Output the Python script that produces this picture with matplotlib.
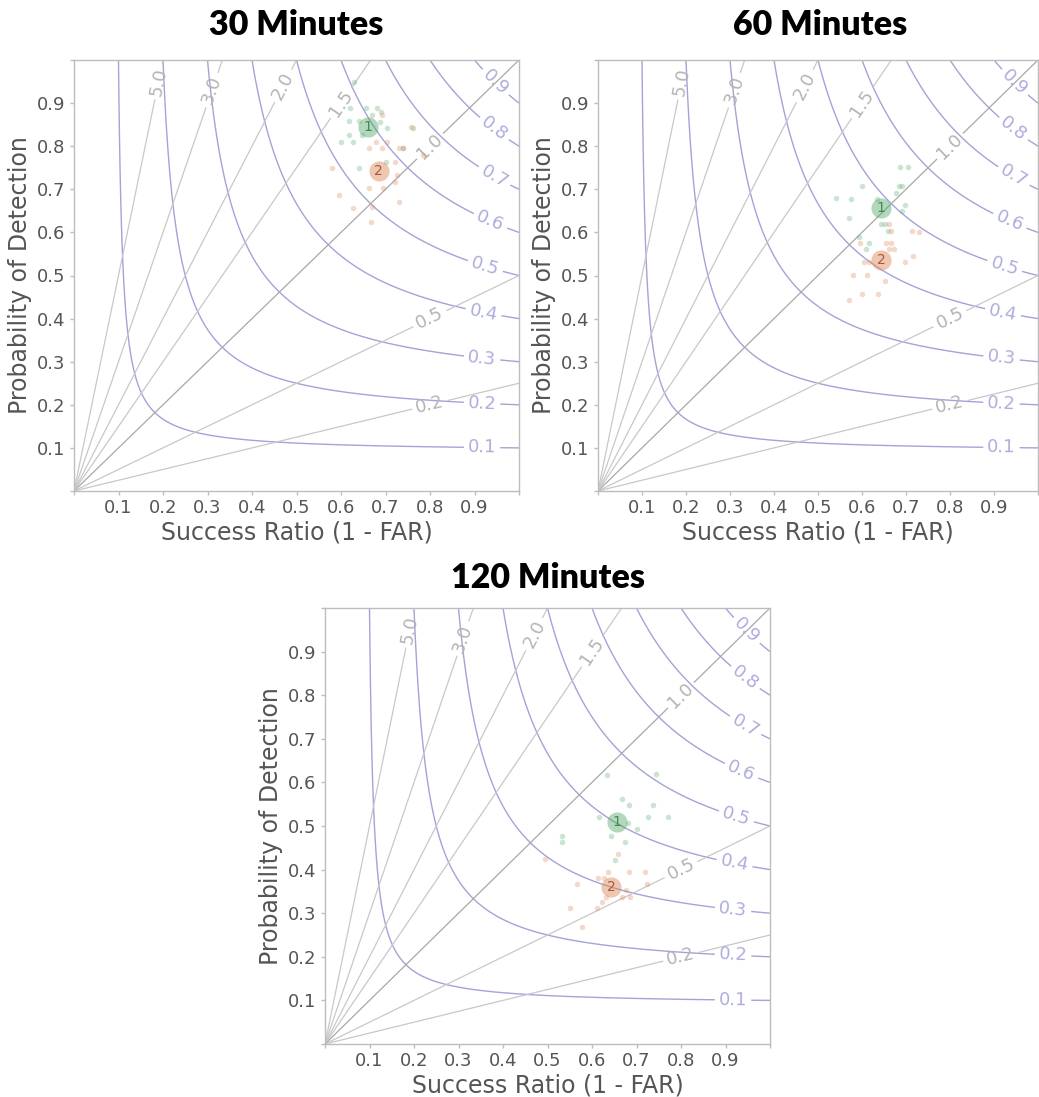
import numpy as np
import matplotlib
matplotlib.use("Agg")
import matplotlib.pyplot as plt

plt.rcParams["font.family"] = ["DejaVu Sans"]

# ---------------- data ----------------
TITLES = ["30 Minutes", "60 Minutes", "120 Minutes"]
CSI_LEVELS = [0.1, 0.2, 0.3, 0.4, 0.5, 0.6, 0.7, 0.8, 0.9]
BIAS_LEVELS = [0.25, 0.5, 1.0, 1.5, 2.0, 3.0, 5.0]
TICKS = [0.0, 0.1, 0.2, 0.3, 0.4, 0.5, 0.6, 0.7, 0.8, 0.9, 1.0]
TICK_LABELS = ["", "0.1", "0.2", "0.3", "0.4", "0.5", "0.6", "0.7", "0.8", "0.9", ""]
XLABEL = "Success Ratio (1 - FAR)"
YLABEL = "Probability of Detection"
CENTROID_LABELS = ["1", "2"]

# 30 minutes
g30_sr = [0.629, 0.620, 0.656, 0.681, 0.618, 0.640, 0.670, 0.688, 0.703, 0.762, 0.618, 0.647,
          0.600, 0.627, 0.739, 0.701, 0.640, 0.690]
g30_pod = [0.949, 0.889, 0.889, 0.889, 0.858, 0.858, 0.872, 0.856, 0.842, 0.842, 0.826, 0.826,
           0.810, 0.810, 0.796, 0.763, 0.749, 0.880]
o30_sr = [0.692, 0.679, 0.703, 0.663, 0.692, 0.730, 0.784, 0.580, 0.721, 0.726, 0.721, 0.663,
          0.694, 0.596, 0.627, 0.670, 0.730, 0.667, 0.757, 0.740]
o30_pod = [0.872, 0.810, 0.810, 0.796, 0.796, 0.796, 0.780, 0.749, 0.763, 0.733, 0.717, 0.703,
           0.703, 0.687, 0.657, 0.659, 0.671, 0.624, 0.845, 0.795]
c30_sr = [0.661, 0.685]
c30_pod = [0.845, 0.742]

# 60 minutes
g60_sr = [0.687, 0.705, 0.599, 0.683, 0.692, 0.678, 0.574, 0.635, 0.698, 0.692, 0.571, 0.644,
          0.653, 0.658, 0.594, 0.615, 0.610, 0.540]
g60_pod = [0.752, 0.752, 0.708, 0.708, 0.708, 0.691, 0.677, 0.677, 0.664, 0.650, 0.633, 0.619,
           0.619, 0.603, 0.589, 0.575, 0.561, 0.680]
o60_sr = [0.662, 0.667, 0.714, 0.596, 0.655, 0.667, 0.662, 0.673, 0.717, 0.605, 0.617, 0.698,
          0.580, 0.612, 0.653, 0.601, 0.637, 0.571, 0.730]
o60_pod = [0.619, 0.603, 0.603, 0.575, 0.575, 0.575, 0.561, 0.561, 0.545, 0.531, 0.531, 0.531,
           0.501, 0.501, 0.487, 0.457, 0.457, 0.443, 0.600]
c60_sr = [0.644, 0.644]
c60_pod = [0.657, 0.536]

# 120 minutes
g120_sr = [0.667, 0.683, 0.737, 0.616, 0.726, 0.771, 0.681, 0.701, 0.533, 0.533, 0.643, 0.674,
           0.652, 0.634, 0.744]
g120_pod = [0.562, 0.548, 0.548, 0.521, 0.521, 0.521, 0.507, 0.493, 0.477, 0.463, 0.477, 0.463,
            0.422, 0.617, 0.619]
o120_sr = [0.658, 0.636, 0.683, 0.719, 0.613, 0.627, 0.566, 0.724, 0.676, 0.631, 0.667, 0.685,
           0.622, 0.551, 0.611, 0.578, 0.494]
o120_pod = [0.436, 0.394, 0.394, 0.394, 0.381, 0.381, 0.367, 0.367, 0.353, 0.337, 0.337, 0.337,
            0.326, 0.312, 0.312, 0.268, 0.425]
c120_sr = [0.656, 0.643]
c120_pod = [0.509, 0.360]

PANELS = [
    (g30_sr, g30_pod, o30_sr, o30_pod, c30_sr, c30_pod),
    (g60_sr, g60_pod, o60_sr, o60_pod, c60_sr, c60_pod),
    (g120_sr, g120_pod, o120_sr, o120_pod, c120_sr, c120_pod),
]

# ---------------- style ----------------
CSI_COLOR = "#a3a3d8"
CSI_LABEL_COLOR = "#aeaedc"
BIAS_COLOR = "#c8c8c8"
BIAS1_COLOR = "#a8a8a8"
TEXT_COLOR = "#555555"
SPINE_COLOR = "#bdbdbd"
GREEN = "#55a868"
ORANGE = "#dd8452"
GREEN_TXT = "#3c8c50"
ORANGE_TXT = "#aa5a3c"

csi_label_pos = [(0.917, 0.102), (0.917, 0.204), (0.917, 0.309), (0.92, 0.413), (0.925, 0.524),
                 (0.937, 0.629), (0.944, 0.729), (0.944, 0.84), (0.948, 0.949)]
bias_label_pos = [(0.8, 0.2), (0.8, 0.4), (0.8, 0.8), (0.6, 0.9), (0.47, 0.94), (0.31, 0.93),
                  (0.19, 0.95)]

W, H = 1039, 1097
fig = plt.figure(figsize=(W / 100, H / 100), dpi=100)
fig.patch.set_facecolor("white")

axes_px = [(74, 60, 519, 491), (598, 60, 1038, 491), (325, 608, 770, 1044)]
title_px = [(296, 25), (820, 25), (548, 578)]

grid = np.linspace(0.001, 1.0, 500)
SR, POD = np.meshgrid(grid, grid)
CSI = 1.0 / (1.0 / SR + 1.0 / POD - 1.0)
BIAS = POD / SR

for i, (gx, gy, ox, oy, cx, cy) in enumerate(PANELS):
    l, t, r, b = axes_px[i]
    ax = fig.add_axes([l / W, 1 - b / H, (r - l) / W, (b - t) / H])
    ax.set_facecolor("white")

    cs = ax.contour(SR, POD, CSI, levels=CSI_LEVELS, colors=CSI_COLOR, linewidths=1.0)
    ax.clabel(cs, fmt="%.1f", manual=csi_label_pos, fontsize=13, colors=CSI_LABEL_COLOR,
              inline=True, inline_spacing=4)
    bcols = [BIAS1_COLOR if lv == 1.0 else BIAS_COLOR for lv in BIAS_LEVELS]
    bs = ax.contour(SR, POD, BIAS, levels=BIAS_LEVELS, colors=bcols, linewidths=0.9)
    ax.clabel(bs, fmt="%.1f", manual=bias_label_pos, fontsize=13, colors="#b4b4b4",
              inline=True, inline_spacing=4)

    ax.scatter(gx, gy, s=16, color=GREEN, alpha=0.3, linewidths=0, zorder=4)
    ax.scatter(ox, oy, s=16, color=ORANGE, alpha=0.3, linewidths=0, zorder=4)
    ax.scatter(cx[0], cy[0], s=210, color=GREEN, alpha=0.45, linewidths=0, zorder=5)
    ax.scatter(cx[1], cy[1], s=210, color=ORANGE, alpha=0.45, linewidths=0, zorder=5)
    ax.text(cx[0], cy[0], CENTROID_LABELS[0], color=GREEN_TXT, fontsize=10,
            ha="center", va="center", zorder=6)
    ax.text(cx[1], cy[1], CENTROID_LABELS[1], color=ORANGE_TXT, fontsize=10,
            ha="center", va="center", zorder=6)

    ax.set_xlim(0, 1)
    ax.set_ylim(0, 1)
    ax.set_xticks(TICKS)
    ax.set_xticklabels(TICK_LABELS)
    ax.set_yticks(TICKS)
    ax.set_yticklabels(TICK_LABELS)
    ax.tick_params(axis="both", colors=SPINE_COLOR, labelcolor=TEXT_COLOR, labelsize=13,
                   length=3, width=1, direction="out", pad=3)
    for sp in ax.spines.values():
        sp.set_color(SPINE_COLOR)
        sp.set_linewidth(1)
    ax.set_xlabel(XLABEL, fontsize=17, color=TEXT_COLOR, labelpad=2)
    ax.set_ylabel(YLABEL, fontsize=17, color=TEXT_COLOR, labelpad=4)

    tx, ty = title_px[i]
    fig.text(tx / W, 1 - ty / H, TITLES[i], ha="center", va="center", fontsize=24.5,
             fontweight="heavy", family=["Lato", "DejaVu Sans"], color="black")

fig.savefig("out.png", dpi=100, facecolor="white")
